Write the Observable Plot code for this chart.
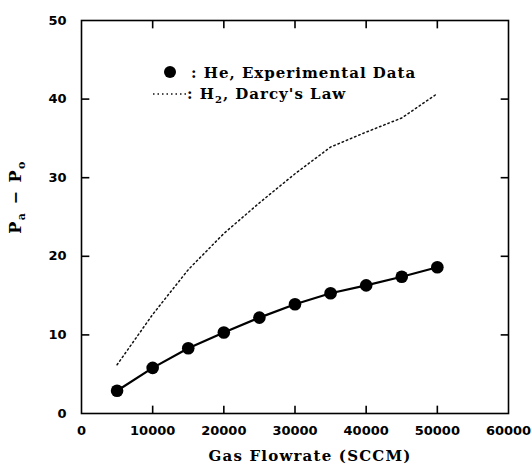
<!DOCTYPE html>
<html>
<head>
<meta charset="utf-8">
<script src="https://cdn.jsdelivr.net/npm/d3@7"></script>
<script src="https://cdn.jsdelivr.net/npm/@observablehq/plot@0.6"></script>
<style>
  html, body { margin: 0; padding: 0; background: #fff; }
  #chart svg { display: block; }
</style>
</head>
<body>
<div id="chart"></div>
<script>
// Gas flowrate (SCCM) at each measurement
const flow = [5000, 10000, 15000, 20000, 25000, 30000, 35000, 40000, 45000, 50000];
// Pressure drop, helium experiment
const heDrop = [2.9, 5.8, 8.3, 10.3, 12.2, 13.9, 15.3, 16.3, 17.4, 18.6];
// Pressure drop, hydrogen by Darcy's law
const h2Drop = [6.2, 12.6, 18.3, 22.9, 26.8, 30.5, 33.9, 35.8, 37.6, 40.7];

const xTicks = [0, 10000, 20000, 30000, 40000, 50000, 60000];
const yTicks = [0, 10, 20, 30, 40, 50];
const xInner = [10000, 20000, 30000, 40000, 50000];
const yInner = [10, 20, 30, 40];

const he = flow.map((x, i) => ({x, y: heDrop[i]}));
const h2 = flow.map((x, i) => ({x, y: h2Drop[i]}));

// short inward tick segments on the four sides of the frame
const xTickLen = 1100, yTickLen = 1;
const tickSegs = [
  ...xInner.map(v => ({x1: v, x2: v, y1: 0, y2: yTickLen})),
  ...xInner.map(v => ({x1: v, x2: v, y1: 50 - yTickLen, y2: 50})),
  ...yInner.map(v => ({x1: 0, x2: xTickLen, y1: v, y2: v})),
  ...yInner.map(v => ({x1: 60000 - xTickLen, x2: 60000, y1: v, y2: v}))
];

const chart = Plot.plot({
  width: 531,
  height: 475,
  marginLeft: 81,
  marginRight: 23,
  marginTop: 20,
  marginBottom: 62,
  style: {fontFamily: "DejaVu Sans", fontSize: "13px", fontWeight: "bold", background: "#fff", color: "#000"},
  x: {domain: [0, 60000]},
  y: {domain: [0, 50]},
  marks: [
    Plot.axisX(xTicks, {tickSize: 0, tickPadding: 12, tickFormat: d3.format("d"), label: null}),
    Plot.axisY(yTicks, {tickSize: 0, tickPadding: 15, label: null}),
    Plot.line(h2, {x: "x", y: "y", stroke: "#111", strokeWidth: 1.5, strokeDasharray: "1.5,3"}),
    Plot.line(he, {x: "x", y: "y", stroke: "#000", strokeWidth: 2.2}),
    Plot.dot(he, {x: "x", y: "y", r: 6.3, fill: "#000", stroke: "none"}),
    Plot.frame({stroke: "#000", strokeWidth: 1.6}),
    Plot.link(tickSegs, {x1: "x1", x2: "x2", y1: "y1", y2: "y2", stroke: "#000", strokeWidth: 1.6})
  ]
});
document.getElementById("chart").appendChild(chart);

// Legend, axis titles with subscripts
const svg = d3.select(chart);
const serif = g => g.attr("font-family", "DejaVu Serif").attr("font-weight", "bold").attr("fill", "#000");

const legend = svg.append("g").call(serif)
  .attr("font-size", 15).attr("letter-spacing", 1).attr("text-anchor", "start");
legend.append("circle").attr("cx", 170).attr("cy", 72).attr("r", 6).attr("fill", "#000");
legend.append("text").attr("x", 191).attr("y", 78).text(": He, Experimental Data");
legend.append("line")
  .attr("x1", 153).attr("x2", 186).attr("y1", 94).attr("y2", 94)
  .attr("stroke", "#111").attr("stroke-width", 1.5).attr("stroke-dasharray", "1.5,3");
const t2 = legend.append("text").attr("x", 187).attr("y", 99);
t2.append("tspan").text(": H");
t2.append("tspan").attr("dy", 4).attr("font-size", 10).text("2");
t2.append("tspan").attr("dy", -4).text(", Darcy's Law");

svg.append("text").call(serif)
  .attr("font-size", 15).attr("letter-spacing", 1.2).attr("text-anchor", "middle")
  .attr("x", 310).attr("y", 461).text("Gas Flowrate (SCCM)");

const yl = svg.append("text").call(serif)
  .attr("font-size", 16).attr("letter-spacing", 1.5).attr("text-anchor", "middle")
  .attr("transform", "translate(21,197) rotate(-90)");
yl.append("tspan").text("P");
yl.append("tspan").attr("dy", 4).attr("font-size", 11).text("a");
yl.append("tspan").attr("dy", -4).text(" \u2212 P");
yl.append("tspan").attr("dy", 4).attr("font-size", 11).text("o");
</script>
</body>
</html>
